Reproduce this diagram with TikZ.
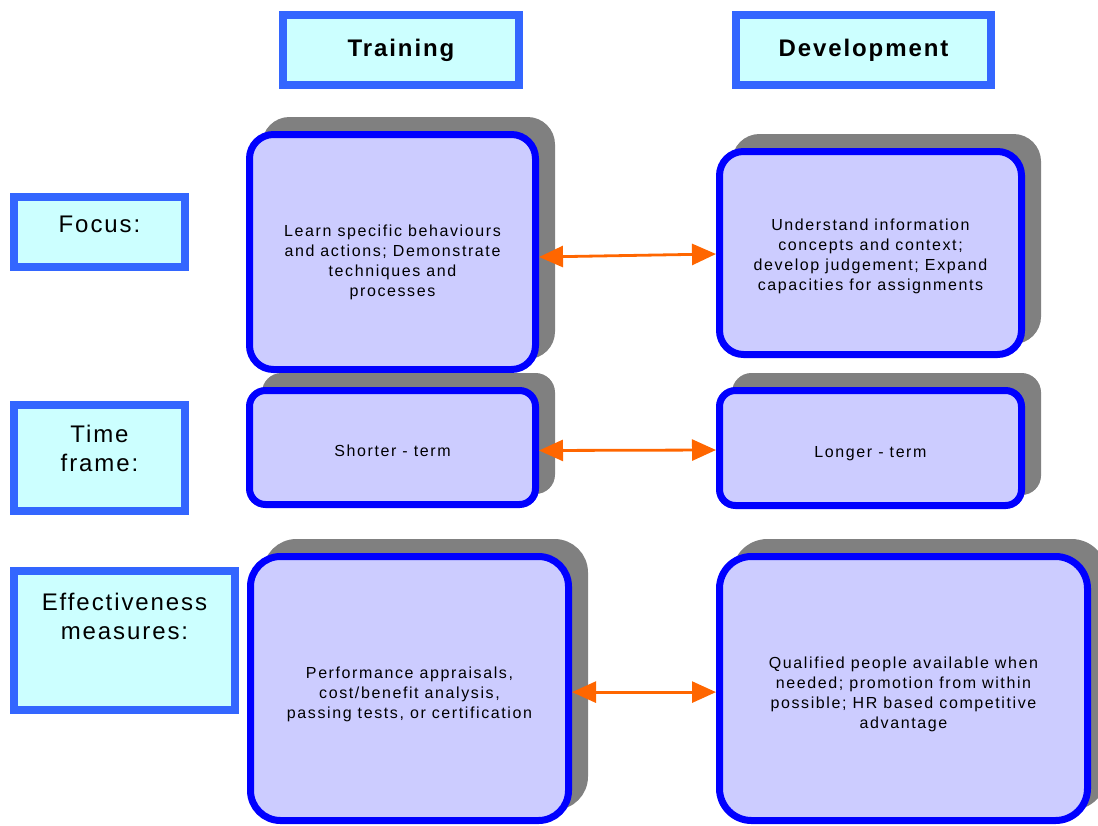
\documentclass[tikz,border=0pt]{standalone}
\definecolor{headblue}{RGB}{51, 102, 255}
\definecolor{headfill}{RGB}{204, 255, 255}
\definecolor{boxblue}{RGB}{0, 0, 255}
\definecolor{boxfill}{RGB}{204, 204, 255}
\definecolor{shadowgray}{RGB}{128, 128, 128}
\definecolor{linkorange}{RGB}{255, 102, 0}
\usepackage{fontspec}
\setmainfont{Liberation Sans}
\newfontfamily\spacedfont{Liberation Sans}[LetterSpace=8]
\newfontfamily\bodyfont{Liberation Sans}[LetterSpace=10]
\usepackage{tikz}
\usetikzlibrary{arrows.meta, shadows}

\begin{document}
\begin{tikzpicture}[x=0.5pt, y=-0.5pt,
  headbox/.style={draw=headblue, fill=headfill, line width=4pt, inner sep=0pt, font=\spacedfont\fontsize{12}{14.5}\selectfont\bfseries},
  labelbox/.style={draw=headblue, fill=headfill, line width=4pt, inner sep=0pt, align=center, font=\spacedfont\fontsize{12}{14.5}\selectfont},
  infobox/.style={draw=boxblue, fill=boxfill, line width=3.5pt, align=center, font=\bodyfont\fontsize{8}{10}\selectfont,
    drop shadow={shadow xshift=8pt, shadow yshift=7pt, opacity=1, fill=shadowgray, draw=shadowgray, line width=3.5pt}},
  link/.style={draw=linkorange, line width=1.4pt, {Triangle[length=12pt, width=10.5pt]}-{Triangle[length=12pt, width=10.5pt]}}]
  \useasboundingbox (0, 0) rectangle (1098, 825);

  % Column headers
  \node[headbox, minimum width=118pt, minimum height=35pt] (training) at (401, 50) {Training};
  \node[headbox, minimum width=127.5pt, minimum height=35pt] (develop) at (863.5, 50) {Development};

  % Row labels
  \node[labelbox, minimum width=85.5pt, minimum height=35pt, text height=8.6pt, text depth=8.5pt] (focus) at (99.5, 232) {Focus:};
  \node[labelbox, minimum width=85.5pt, minimum height=53pt, text height=23.1pt, text depth=10pt] (timeframe) at (99.5, 458) {Time\\frame:};
  \node[labelbox, minimum width=110.5pt, minimum height=69.5pt, text height=23.1pt, text depth=24.5pt] (measures) at (124.5, 640.5) {Effectiveness\\measures:};

  % Focus row
  \node[infobox, rounded corners=12pt, minimum width=143pt, minimum height=117.5pt, text height=45.8pt] (focustr) at (392.5, 252) {
    Learn specific behaviours\\and actions; Demonstrate\\techniques and\\processes
  };
  \node[infobox, rounded corners=12pt, minimum width=151pt, minimum height=101.5pt, text height=38.8pt] (focusdev) at (870.5, 253) {
    Understand information\\concepts and context;\\develop judgement; Expand\\capacities for assignments
  };

  % Time frame row
  \node[infobox, rounded corners=8pt, minimum width=143pt, minimum height=57pt, text height=8.8pt] (timetr) at (392.5, 447.5) {Shorter - term};
  \node[infobox, rounded corners=8pt, minimum width=151pt, minimum height=57.5pt, text height=10.8pt] (timedev) at (870.5, 448) {Longer - term};

  % Effectiveness row
  \node[infobox, rounded corners=15pt, minimum width=159pt, minimum height=132pt, text height=31.8pt] (meastr) at (409.5, 688.5) {
    Performance appraisals,\\cost/benefit analysis,\\passing tests, or certification
  };
  \node[infobox, rounded corners=16pt, minimum width=184pt, minimum height=132pt, text height=41.8pt] (measdev) at (903.5, 688.5) {
    Qualified people available when\\needed; promotion from within\\possible; HR based competitive\\advantage
  };

  \draw[link] ([yshift=-2.5pt]focustr.east) -- ([yshift=-0.5pt]focusdev.west);
  \draw[link] ([yshift=-1.5pt]timetr.east) -- ([yshift=-1pt]timedev.west);
  \draw[link] ([yshift=-1.8pt]meastr.east) -- ([yshift=-1.8pt]measdev.west);
\end{tikzpicture}
\end{document}
